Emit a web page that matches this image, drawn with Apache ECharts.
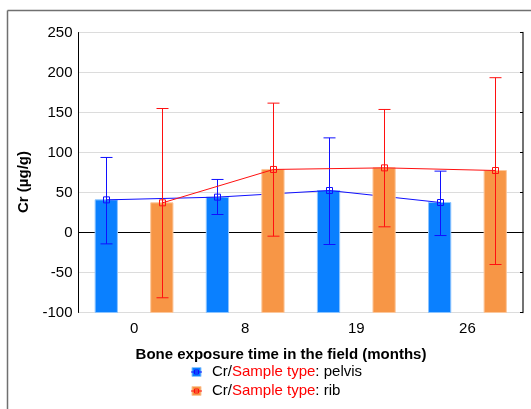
<!DOCTYPE html>
<html>
<head>
<meta charset="utf-8">
<script src="https://cdn.jsdelivr.net/npm/echarts@6/dist/echarts.min.js"></script>
<style>
  html, body { margin: 0; padding: 0; background: #fff; }
  #chart { width: 531px; height: 409px; }
</style>
</head>
<body>
<div id="chart"></div>
<script>
// Cr concentration (µg/g) by exposure time, means with interval bounds
const months = ['0', '8', '19', '26'];
const pelvisMean = [40.8, 44.2, 52.5, 37.5];
const pelvisLow  = [-14.2, 22.5, -15.0, -3.8];
const pelvisHigh = [93.8, 66.3, 118.3, 76.7];
const ribMean = [37.1, 78.8, 80.8, 77.5];
const ribLow  = [-81.6, -4.6, 7.1, -40.0];
const ribHigh = [155.0, 161.7, 153.8, 193.5];
const yMin = -100, yMax = 250, yStep = 50;

const FONT = '"Liberation Sans", Arial, sans-serif';
const BAR_SHARE = 0.2;   // bar width as share of the category band
const SHIFT = 0.25;      // bar centre offset from category centre, in bands

// Bars grow up from the bottom of the value axis
function barSeries(name, mean, fill, edge, side, z) {
  return {
    type: 'custom', name, z,
    data: mean.map((m, i) => [i, m]),
    renderItem(params, api) {
      const i = api.value(0);
      const band = api.size([1, 0])[0];
      const w = band * BAR_SHARE;
      const top = api.coord([i, api.value(1)]);
      const base = api.coord([i, yMin])[1];
      return {
        type: 'rect',
        shape: { x: top[0] + side * band * SHIFT - w / 2, y: top[1], width: w, height: base - top[1] },
        style: { fill, stroke: edge, lineWidth: 1 }
      };
    }
  };
}

// Connecting line, error whiskers and hollow square markers
function overlaySeries(name, mean, low, high, color, side, z) {
  return {
    type: 'custom', name, z,
    data: mean.map((m, i) => [i, m, low[i], high[i]]),
    renderItem(params, api) {
      const i = api.value(0);
      const band = api.size([1, 0])[0];
      const off = side * band * SHIFT;
      const p = api.coord([i, api.value(1)]);
      const x = Math.round(p[0] + off) + 0.5;
      const yHi = api.coord([i, api.value(3)])[1];
      const yLo = api.coord([i, api.value(2)])[1];
      const line = { stroke: color, lineWidth: 1 };
      const kids = [];
      if (i < mean.length - 1) {
        const q = api.coord([i + 1, mean[i + 1]]);
        kids.push({ type: 'line', shape: { x1: x, y1: p[1], x2: Math.round(q[0] + off) + 0.5, y2: q[1] }, style: line });
      }
      kids.push({ type: 'line', shape: { x1: x, y1: yHi, x2: x, y2: yLo }, style: line });
      kids.push({ type: 'line', shape: { x1: x - 6, y1: yHi, x2: x + 6, y2: yHi }, style: line });
      kids.push({ type: 'line', shape: { x1: x - 6, y1: yLo, x2: x + 6, y2: yLo }, style: line });
      kids.push({ type: 'rect', shape: { x: x - 3, y: p[1] - 3, width: 6, height: 6 }, style: { fill: 'none', stroke: color, lineWidth: 1 } });
      return { type: 'group', children: kids };
    }
  };
}

function legendRow(y, fill, edge, color, label) {
  return {
    type: 'group',
    children: [
      { type: 'rect', shape: { x: 192, y: y - 4.5, width: 9, height: 9 }, style: { fill, stroke: edge, lineWidth: 1 } },
      { type: 'line', shape: { x1: 191, y1: y, x2: 202, y2: y }, style: { stroke: color, lineWidth: 1 } },
      { type: 'rect', shape: { x: 194.5, y: y - 2, width: 4, height: 4 }, style: { fill: 'none', stroke: color, lineWidth: 1 } },
      {
        type: 'text', x: 212, y,
        style: {
          text: '{k|Cr/}{r|Sample type}{k|: ' + label + '}',
          verticalAlign: 'middle',
          font: '15px ' + FONT,
          rich: {
            k: { fill: '#000', font: '15px ' + FONT },
            r: { fill: '#ff0000', font: '15px ' + FONT }
          }
        }
      }
    ]
  };
}

const BLUE_BAR = '#0a80ff', BLUE_EDGE = '#8cc4ff', BLUE_LINE = '#1010ff';
const ORANGE_BAR = '#f79646', ORANGE_EDGE = '#fbc79c', RED_LINE = '#ff1010';

const chart = echarts.init(document.getElementById('chart'), null, { renderer: 'canvas' });
chart.setOption({
  animation: false,
  backgroundColor: '#fff',
  grid: { left: 78.5, top: 32.5, width: 444.5, height: 280, containLabel: false },
  xAxis: [
    {
      type: 'category', data: months, position: 'bottom', boundaryGap: true,
      axisLine: { lineStyle: { color: '#000', width: 1 } },
      axisTick: { inside: true, alignWithLabel: true, length: 3, lineStyle: { color: '#000' } },
      axisLabel: { color: '#000', fontSize: 15, fontFamily: FONT, margin: 9 },
      splitLine: { show: false }
    },
    {
      type: 'category', data: months, position: 'top', boundaryGap: true,
      axisLine: { lineStyle: { color: '#000', width: 1 } },
      axisTick: { inside: true, alignWithLabel: true, length: 3, lineStyle: { color: '#000' } },
      axisLabel: { show: false },
      splitLine: { show: false }
    }
  ],
  yAxis: [
    {
      type: 'value', min: yMin, max: yMax, interval: yStep, position: 'left',
      axisLine: { show: true, lineStyle: { color: '#000', width: 1 } },
      axisTick: { show: false },
      axisLabel: { color: '#000', fontSize: 15, fontFamily: FONT, margin: 6 },
      splitLine: { show: true, lineStyle: { color: '#dcdcdc', width: 1 } }
    },
    {
      type: 'value', min: yMin, max: yMax, interval: yStep, position: 'right',
      axisLine: { show: true, lineStyle: { color: '#444', width: 1.5 } },
      axisTick: { show: true, inside: true, length: 3, lineStyle: { color: '#000' } },
      axisLabel: { show: false },
      splitLine: { show: false }
    }
  ],
  series: [
    barSeries('pelvis bars', pelvisMean, BLUE_BAR, BLUE_EDGE, -1, 2),
    overlaySeries('pelvis', pelvisMean, pelvisLow, pelvisHigh, BLUE_LINE, -1, 3),
    barSeries('rib bars', ribMean, ORANGE_BAR, ORANGE_EDGE, 1, 4),
    overlaySeries('rib', ribMean, ribLow, ribHigh, RED_LINE, 1, 5)
  ],
  graphic: [
    { type: 'line', shape: { x1: 7.5, y1: 10.5, x2: 531, y2: 10.5 }, style: { stroke: '#707070', lineWidth: 1.5 } },
    { type: 'line', shape: { x1: 7.5, y1: 10.5, x2: 7.5, y2: 409 }, style: { stroke: '#707070', lineWidth: 1.5 } },
    {
      type: 'text', x: 281, y: 355,
      style: { text: 'Bone exposure time in the field (months)', font: 'bold 15px ' + FONT, fill: '#000', align: 'center', verticalAlign: 'middle' }
    },
    {
      type: 'text', x: 24, y: 182, rotation: Math.PI / 2,
      style: { text: 'Cr (µg/g)', font: 'bold 15px ' + FONT, fill: '#000', align: 'center', verticalAlign: 'middle' }
    },
    legendRow(372, BLUE_BAR, BLUE_EDGE, BLUE_LINE, 'pelvis'),
    legendRow(391, ORANGE_BAR, ORANGE_EDGE, RED_LINE, 'rib')
  ]
});
</script>
</body>
</html>
